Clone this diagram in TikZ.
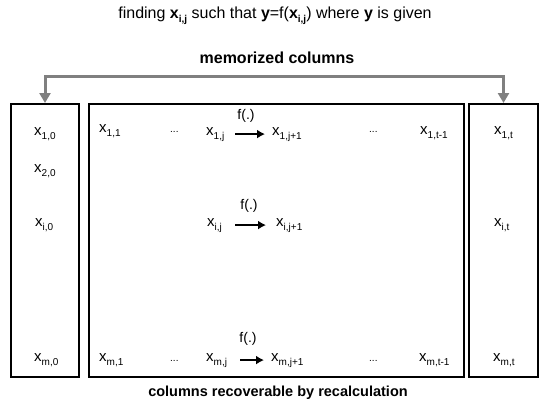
\documentclass[tikz,border=0pt]{standalone}
\usepackage{fontspec}
\setmainfont{Liberation Sans}
\usetikzlibrary{arrows.meta}
\definecolor{gline}{HTML}{808080}
\newcommand\sbx[1]{\raisebox{-4pt}{\fontsize{10}{12}\selectfont #1}}
\newcommand\xs[1]{x\sbx{#1}}
\begin{document}
\begin{tikzpicture}[x=1pt,y=-1pt,
  colbox/.style={draw=black,line width=2pt,inner sep=0pt},
  lab/.style={anchor=base west,inner sep=1pt,font=\fontsize{15}{18}\selectfont},
  dots/.style={anchor=base west,inner sep=1pt,font=\fontsize{10}{12}\selectfont},
  flab/.style={inner sep=1pt,font=\fontsize{14}{16}\selectfont},
  farrow/.style={draw=black,line width=2.2pt,-{Latex[length=8pt,width=9pt]}},
  garrow/.style={draw=gline,line width=3pt,{Triangle[length=10pt,width=11pt]}-{Triangle[length=10pt,width=11pt]}},
  heading/.style={inner sep=0pt,font=\bfseries\fontsize{16}{19}\selectfont}]
\useasboundingbox (0,0) rectangle (550,407);
% title
\node[inner sep=0pt,font=\fontsize{16}{19}\selectfont] (title) at (275,16)
  {finding \textbf{x}\sbx{\textbf{i,j}} such that \textbf{y}=f(\textbf{x}\sbx{\textbf{i,j}}) where \textbf{y} is given};
\node[heading] (mem) at (277,58) {memorized columns};
\node[heading,font=\bfseries\fontsize{14.5}{17}\selectfont] (rec) at (278,393) {columns recoverable by recalculation};
% boxes
\node[colbox,minimum width=68pt,minimum height=273pt] (lb) at (45,240.5) {};
\node[colbox,minimum width=375pt,minimum height=273pt] (mb) at (276.5,240.5) {};
\node[colbox,minimum width=69pt,minimum height=273pt] (rb) at (503.5,240.5) {};
% gray connector
\coordinate (gtop) at (275,76);
\draw[garrow] (lb.north) |- (gtop) -| (rb.north);
% row 1
\node[lab] (a10) at (33,135) {\xs{1,0}};
\node[lab] (a11) at (98,132) {\xs{1,1}};
\node[dots] (d1) at (169,132) {...};
\node[lab] (a1j) at (205,135) {\xs{1,j}};
\node[lab] (a1jp) at (271,135) {\xs{1,j+1}};
\node[dots] (d1b) at (368,132) {...};
\node[lab] (a1tm) at (419,134) {\xs{1,t-1}};
\node[lab] (a1t) at (493,134) {\xs{1,t}};
\node[flab] (f1) at (246,116) {f(.)};
\draw[farrow,shorten <=10pt,shorten >=6pt] (a1j) -- (a1jp);
% row 2
\node[lab] (a20) at (33,172) {\xs{2,0}};
% row i
\node[lab] (ai0) at (34,226) {\xs{i,0}};
\node[lab] (aij) at (206,226) {\xs{i,j}};
\node[lab] (aijp) at (275,226) {\xs{i,j+1}};
\node[lab] (ait) at (493,226) {\xs{i,t}};
\node[flab] (fi) at (249,206) {f(.)};
\draw[farrow,shorten <=12pt,shorten >=9pt] (aij) -- (aijp);
% row m
\node[lab] (am0) at (33,361) {\xs{m,0}};
\node[lab] (am1) at (98,361) {\xs{m,1}};
\node[dots] (dm) at (169,361) {...};
\node[lab] (amj) at (205,361) {\xs{m,j}};
\node[lab] (amjp) at (270,361) {\xs{m,j+1}};
\node[dots] (dmb) at (368,361) {...};
\node[lab] (amtm) at (418,361) {\xs{m,t-1}};
\node[lab] (amt) at (492,361) {\xs{m,t}};
\node[flab] (fm) at (248,339) {f(.)};
\draw[farrow,shorten <=12pt,shorten >=6pt] (amj) -- (amjp);
\end{tikzpicture}
\end{document}
